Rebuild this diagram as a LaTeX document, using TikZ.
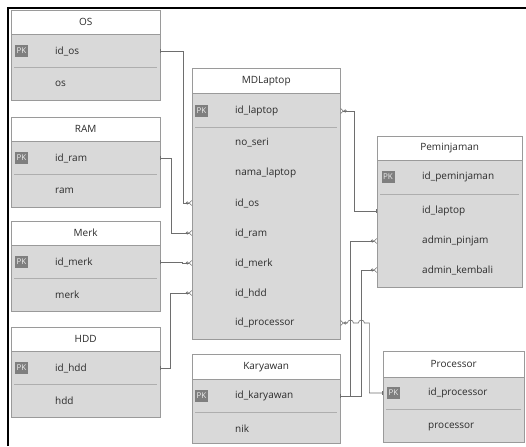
\documentclass[tikz,border=0pt]{standalone}
\usepackage{fontspec}
\setmainfont{Open Sans}
\usepackage{tikz}
\usetikzlibrary{positioning,arrows.meta}
\definecolor{edge}{HTML}{9A9A9A}
\definecolor{bodyfill}{HTML}{D9D9D9}
\definecolor{ink}{HTML}{2B2B2B}
\definecolor{pkfill}{HTML}{7F7F7F}
\definecolor{wire}{HTML}{6E6E6E}

\begin{document}
\begin{tikzpicture}[x=1pt,y=-1pt,font=\fontsize{10}{12}\selectfont]
        \tikzstyle{head}=[draw=edge,fill=white,text=ink,anchor=north west,inner sep=0pt]
        \tikzstyle{body}=[draw=edge,fill=bodyfill,inner sep=0pt]
        \tikzstyle{row}=[text=ink,anchor=west,inner sep=0pt]
        \tikzstyle{pk}=[fill=pkfill,text=white!85!pkfill,inner sep=0pt,minimum width=13pt,minimum height=12pt,font=\fontsize{8}{8}\selectfont]
        \tikzstyle{sepline}=[edge!80,line width=0.5pt]
        \tikzstyle{wire}=[draw=wire,line width=0.6pt]
        \tikzstyle{onemany}=[wire,{Bar[width=4pt]}-{Circle[open,length=3pt,width=3pt]Straight Barb[reversed,length=2.5pt,width=5pt]}]
        \tikzstyle{manyone}=[wire,{Straight Barb[reversed,length=2.5pt,width=5pt]Circle[open,length=3pt,width=3pt]}-{Bar[width=4pt]}]
        \useasboundingbox (0,0) rectangle (526,446);
        \draw[line width=2.5pt] (8,446) -- (8,8) -- (526,8);

        % OS
        \node[head,minimum width=149pt,minimum height=24pt] (os) at (11,10) {OS};
        \node[body,minimum width=149pt,minimum height=66pt,below=0pt of os] (osb) {};
        \node[pk] (ospk) at (21.5,51) {PK};
        \node[row] (osid) at (55,51) {id\_os};
        \draw[sepline] (14,67) -- (157,67);
        \node[row] (osos) at (55,84) {os};

        % RAM
        \node[head,minimum width=149pt,minimum height=24pt] (ram) at (11,117) {RAM};
        \node[body,minimum width=149pt,minimum height=66pt,below=0pt of ram] (ramb) {};
        \node[pk] (rampk) at (21.5,158) {PK};
        \node[row] (ramid) at (55,158) {id\_ram};
        \draw[sepline] (14,174) -- (157,174);
        \node[row] (ramram) at (55,191) {ram};

        % Merk
        \node[head,minimum width=149pt,minimum height=24pt] (merk) at (11,221) {Merk};
        \node[body,minimum width=149pt,minimum height=66pt,below=0pt of merk] (merkb) {};
        \node[pk] (merkpk) at (21.5,262) {PK};
        \node[row] (merkid) at (55,262) {id\_merk};
        \draw[sepline] (14,278) -- (157,278);
        \node[row] (merkmerk) at (55,295) {merk};

        % HDD
        \node[head,minimum width=149pt,minimum height=24pt] (hdd) at (11,327) {HDD};
        \node[body,minimum width=149pt,minimum height=66pt,below=0pt of hdd] (hddb) {};
        \node[pk] (hddpk) at (21.5,368) {PK};
        \node[row] (hddid) at (55,368) {id\_hdd};
        \draw[sepline] (14,384) -- (157,384);
        \node[row] (hddhdd) at (55,401) {hdd};

        % MDLaptop
        \node[head,minimum width=148pt,minimum height=25pt] (lap) at (192,68) {MDLaptop};
        \node[body,minimum width=148pt,minimum height=246pt,below=0pt of lap] (lapb) {};
        \node[pk] (lappk) at (201.5,111) {PK};
        \node[row] (lapid) at (235,111) {id\_laptop};
        \draw[sepline] (195,127) -- (337,127);
        \node[row] (lapseri) at (235,143) {no\_seri};
        \node[row] (lapnama) at (235,173) {nama\_laptop};
        \node[row] (lapos) at (235,203) {id\_os};
        \node[row] (lapram) at (235,233) {id\_ram};
        \node[row] (lapmerk) at (235,263) {id\_merk};
        \node[row] (laphdd) at (235,293) {id\_hdd};
        \node[row] (lappro) at (235,323) {id\_processor};

        % Karyawan
        \node[head,minimum width=148pt,minimum height=25pt] (kar) at (192,354) {Karyawan};
        \node[body,minimum width=148pt,minimum height=64pt,below=0pt of kar] (karb) {};
        \node[pk] (karpk) at (201.5,396) {PK};
        \node[row] (karid) at (235,396) {id\_karyawan};
        \draw[sepline] (195,412) -- (337,412);
        \node[row] (karnik) at (235,429) {nik};

        % Peminjaman
        \node[head,minimum width=145pt,minimum height=24pt] (pem) at (377,136) {Peminjaman};
        \node[body,minimum width=145pt,minimum height=127pt,below=0pt of pem] (pemb) {};
        \node[pk] (pempk) at (388,177) {PK};
        \node[row] (pemid) at (422,177) {id\_peminjaman};
        \draw[sepline] (380,194) -- (519,194);
        \node[row] (pemlap) at (422,211) {id\_laptop};
        \node[row] (pempin) at (422,241) {admin\_pinjam};
        \node[row] (pemkem) at (422,270) {admin\_kembali};

        % Processor
        \node[head,minimum width=141pt,minimum height=26pt] (pro) at (383,351) {Processor};
        \node[body,minimum width=141pt,minimum height=65pt,below=0pt of pro] (prob) {};
        \node[pk] (propk) at (393.5,393) {PK};
        \node[row] (proid) at (428,393) {id\_processor};
        \draw[sepline] (386,409) -- (521,409);
        \node[row] (propro) at (428,427) {processor};

        % relasi
        \draw[onemany] (osb.east |- osid) -- ++(23,0) |- (lapb.west |- lapos);
        \draw[onemany] (ramb.east |- ramid) -- ++(11,0) |- (lapb.west |- lapram);
        \draw[onemany] (merkb.east |- merkid) -- ++(22,0) |- (lapb.west |- lapmerk);
        \draw[onemany] (hddb.east |- hddid) -- ++(10,0) |- (lapb.west |- laphdd);
        \draw[manyone] (lapb.east |- lapid) -- ++(14,0) |- (pemb.west |- pemlap);
        \draw[onemany] (karb.east |- karid) -- ++(10,0) |- (pemb.west |- pempin);
        \draw[onemany] (karb.east |- karid) -- ++(21,0) |- (pemb.west |- pemkem);
        \draw[manyone] (lapb.east |- lappro) -- ++(7,0) arc[start angle=180,end angle=360,radius=3]
            -- ++(5,0) arc[start angle=180,end angle=360,radius=3] -- ++(5,0) |- (prob.west |- proid);
    \end{tikzpicture}
\end{document}
